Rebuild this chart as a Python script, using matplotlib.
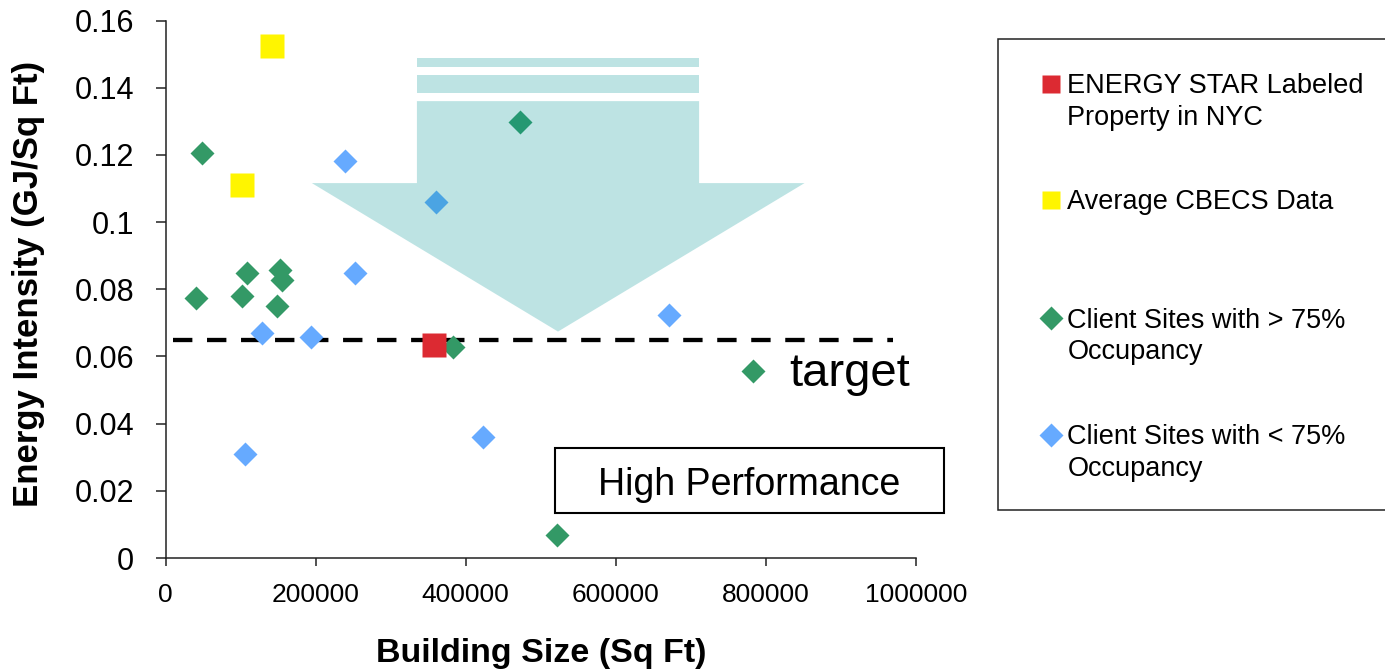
import matplotlib
matplotlib.use('Agg')
import matplotlib.pyplot as plt
from matplotlib.patches import Rectangle, Polygon

plt.rcParams['font.family'] = ['Liberation Sans', 'DejaVu Sans']

# building size (sq ft) vs energy intensity (GJ / sq ft)
energy_star_x = [358000]
energy_star_y = [0.0633]

cbecs_x = [141700, 101300]
cbecs_y = [0.1524, 0.111]

occ_high_x = [49300, 472800, 108000, 152400, 155500, 40400, 101300, 148800, 382700, 782700, 522100]
occ_high_y = [0.1207, 0.1297, 0.0849, 0.0856, 0.0829, 0.0775, 0.078, 0.075, 0.0628, 0.0556, 0.0069]

occ_low_x = [238700, 360400, 252000, 128000, 193300, 105700, 423500, 671500]
occ_low_y = [0.1181, 0.106, 0.0849, 0.0669, 0.0659, 0.031, 0.0361, 0.0722]

target_x = [10000, 970000]
target_y = 0.065

x_ticks = [0, 200000, 400000, 600000, 800000, 1000000]
y_ticks = [0, 0.02, 0.04, 0.06, 0.08, 0.1, 0.12, 0.14, 0.16]
y_tick_labels = ['0', '0.02', '0.04', '0.06', '0.08', '0.1', '0.12', '0.14', '0.16']

legend_labels = [
    ['ENERGY STAR Labeled', 'Property in NYC'],
    ['Average CBECS Data'],
    ['Client Sites with > 75%', 'Occupancy'],
    ['Client Sites with < 75%', 'Occupancy'],
]

RED = '#DC2A32'
YELLOW = '#FFF500'
GREEN = '#339966'
BLUE = '#66AAFF'
ARROW = '#009696'

W, H = 1385, 670
fig = plt.figure(figsize=(W / 100, H / 100), dpi=100)
ax = fig.add_axes([165.5 / W, 1 - 558 / H, 750.5 / W, 537.5 / H])

ax.plot(occ_high_x, occ_high_y, 'D', color=GREEN, ms=12.5, mec='none', zorder=3)
ax.plot(occ_low_x, occ_low_y, 'D', color=BLUE, ms=12.5, mec='none', zorder=3)
ax.plot(cbecs_x, cbecs_y, 's', color=YELLOW, ms=17, mec='none', zorder=3)
ax.plot(energy_star_x, energy_star_y, 's', color=RED, ms=17, mec='none', zorder=3)

ax.plot(target_x, [target_y, target_y], color='black', lw=3.1,
        dashes=(4.5, 3.4), zorder=2)

# big translucent arrow pointing down towards the target
shaft_l, shaft_r = 335000, 711000
head_l, head_r = 195000, 851500
tip_x, tip_y = 523000, 0.0674
head_top, shaft_top = 0.1116, 0.136
arrow = Polygon([(shaft_l, shaft_top), (shaft_r, shaft_top), (shaft_r, head_top),
                 (head_r, head_top), (tip_x, tip_y), (head_l, head_top),
                 (shaft_l, head_top)], closed=True, fc=ARROW, ec='none',
                alpha=0.26, zorder=4)
ax.add_patch(arrow)
for y0, y1 in [(0.1385, 0.1437), (0.1462, 0.1488)]:
    ax.add_patch(Rectangle((shaft_l, y0), shaft_r - shaft_l, y1 - y0,
                           fc=ARROW, ec='none', alpha=0.26, zorder=4))

ax.text(831000, 0.0513, 'target', fontsize=34, va='baseline', ha='left')

ax.add_patch(Rectangle((519000, 0.0135), 518700, 0.0191, fc='white', ec='black',
                       lw=1.5, clip_on=False, zorder=5))
ax.text(778000, 0.0188, 'High Performance', fontsize=27, ha='center',
        va='baseline', zorder=6)

ax.set_xlim(0, 1000000)
ax.set_ylim(0, 0.16)
ax.set_xticks(x_ticks)
ax.set_xticklabels([str(v) for v in x_ticks], fontsize=19)
ax.set_yticks(y_ticks)
ax.set_yticklabels(y_tick_labels, fontsize=22)
ax.tick_params(axis='both', direction='out', width=1.1, color='#222222')
ax.tick_params(axis='y', length=7.5, pad=15)
ax.tick_params(axis='x', length=6, pad=12)

for side in ['top', 'right']:
    ax.spines[side].set_visible(False)
for side in ['left', 'bottom']:
    ax.spines[side].set_linewidth(1.1)
    ax.spines[side].set_color('#222222')

fig.text(541 / W, 1 - 661.7 / H, 'Building Size (Sq Ft)', fontsize=24.5,
         fontweight='bold', ha='center', va='baseline')
fig.text(28.3 / W, 1 - 283.5 / H, 'Energy Intensity (GJ/Sq Ft)', fontsize=25,
         fontweight='bold', ha='center', va='center', rotation=90)

# legend drawn by hand so markers sit on the first line of each label
lax = fig.add_axes([0, 0, 1, 1], facecolor='none')
lax.set_xlim(0, W)
lax.set_ylim(H, 0)
lax.axis('off')
lax.add_patch(Rectangle((998.3, 39), 420, 471, fc='white', ec='#222222',
                        lw=1.1, clip_on=False, zorder=0))

first_baselines = [93.3, 209.3, 327.7, 444.3]
marker_styles = [('s', RED, 12.7), ('s', YELLOW, 12.7), ('D', GREEN, 12.5), ('D', BLUE, 12.5)]
for lines, base, (mk, col, ms) in zip(legend_labels, first_baselines, marker_styles):
    lax.plot([1050.5], [base - 9.5], mk, color=col, ms=ms, mec='none', zorder=2)
    for i, line in enumerate(lines):
        lax.text(1067.3, base + i * 31.7, line, fontsize=19.5, va='baseline',
                 ha='left', zorder=2)

fig.savefig('out.png', dpi=100)
